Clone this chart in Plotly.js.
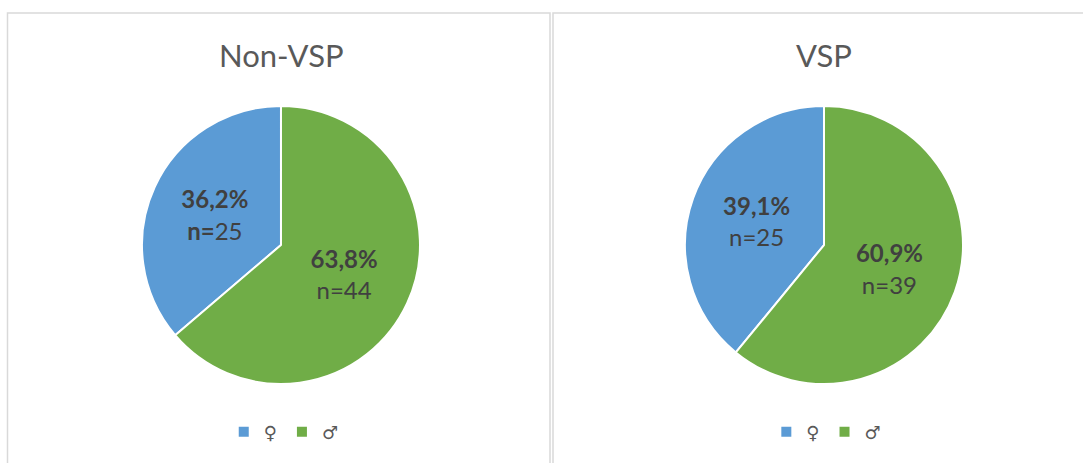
<!DOCTYPE html>
<html><head><meta charset="utf-8">
<script src="https://cdn.plot.ly/plotly-3.0.1.min.js"></script>
<style>html,body{margin:0;padding:0;background:#fff}#chart{width:1083px;height:463px}</style>
</head><body><div id="chart"></div>
<script>
const sexLabels = ["\u2640", "\u2642"];
const sexLabels2 = ["\u2640\u200b", "\u2642\u200b"];
const nonVspCounts = [25, 44];
const vspCounts = [25, 39];
const panelTitles = ["Non-VSP", "VSP"];
const sliceColors = ["#5b9bd5", "#70ad47"];

const fontFam = "Lato, 'Open Sans', 'DejaVu Sans', sans-serif";

// first slice must end at 12 o'clock (drawn clockwise)
function startAngle(vals) {
  const s = vals.reduce((a, b) => a + b, 0);
  return -360 * vals[0] / s;
}

const pieBase = {
  type: "pie",
  sort: false,
  direction: "clockwise",
  marker: {colors: sliceColors, line: {color: "#ffffff", width: 2}},
  textposition: "inside",
  insidetextorientation: "horizontal",
  textfont: {family: fontFam, size: 24, color: "#404040"},
  hoverinfo: "label+percent+value"
};

const data = [
  Object.assign({}, pieBase, {
    labels: sexLabels,
    values: nonVspCounts,
    rotation: startAngle(nonVspCounts),
    domain: {x: [0.1311, 0.3878], y: [0.1706, 0.771]},
    texttemplate: ["<b>%{percent:.1%}</b><br><b>n=</b>%{value}", "<b>%{percent:.1%}</b><br>n=%{value}"],
    legend: "legend"
  }),
  Object.assign({}, pieBase, {
    labels: sexLabels2,
    values: vspCounts,
    rotation: startAngle(vspCounts),
    domain: {x: [0.6325, 0.8892], y: [0.1706, 0.771]},
    texttemplate: ["<b>%{percent:.1%}</b><br>n=%{value}", "<b>%{percent:.1%}</b><br>n=%{value}"],
    legend: "legend2"
  })
];

const legendCommon = {
  orientation: "h",
  yanchor: "middle",
  xanchor: "center",
  y: 0.067,
  font: {family: "'DejaVu Sans', sans-serif", size: 18, color: "#595959"},
  bgcolor: "rgba(0,0,0,0)",
  itemclick: false
};

const layout = {
  width: 1083, height: 463,
  margin: {l: 0, r: 0, t: 0, b: 0},
  paper_bgcolor: "#ffffff",
  separators: ",.",
  showlegend: true,
  legend: Object.assign({}, legendCommon, {x: 0.262}),
  legend2: Object.assign({}, legendCommon, {x: 0.763}),
  annotations: [
    {text: panelTitles[0], x: 0.2595, y: 1 - 55/463, xref: "paper", yref: "paper", showarrow: false,
     xanchor: "center", yanchor: "middle",
     font: {family: fontFam, size: 31, color: "#595959"}},
    {text: panelTitles[1], x: 0.7608, y: 1 - 55/463, xref: "paper", yref: "paper", showarrow: false,
     xanchor: "center", yanchor: "middle",
     font: {family: fontFam, size: 31, color: "#595959"}}
  ],
  shapes: [
    {type: "rect", xref: "paper", yref: "paper", x0: 7.5/1083, x1: 550/1083, y0: -0.01, y1: 1 - 13/463,
     line: {color: "#d9d9d9", width: 1.5}},
    {type: "rect", xref: "paper", yref: "paper", x0: 553/1083, x1: 1.01, y0: -0.01, y1: 1 - 13/463,
     line: {color: "#d9d9d9", width: 1.5}}
  ]
};

Plotly.newPlot("chart", data, layout, {displayModeBar: false, staticPlot: true});
</script></body></html>
